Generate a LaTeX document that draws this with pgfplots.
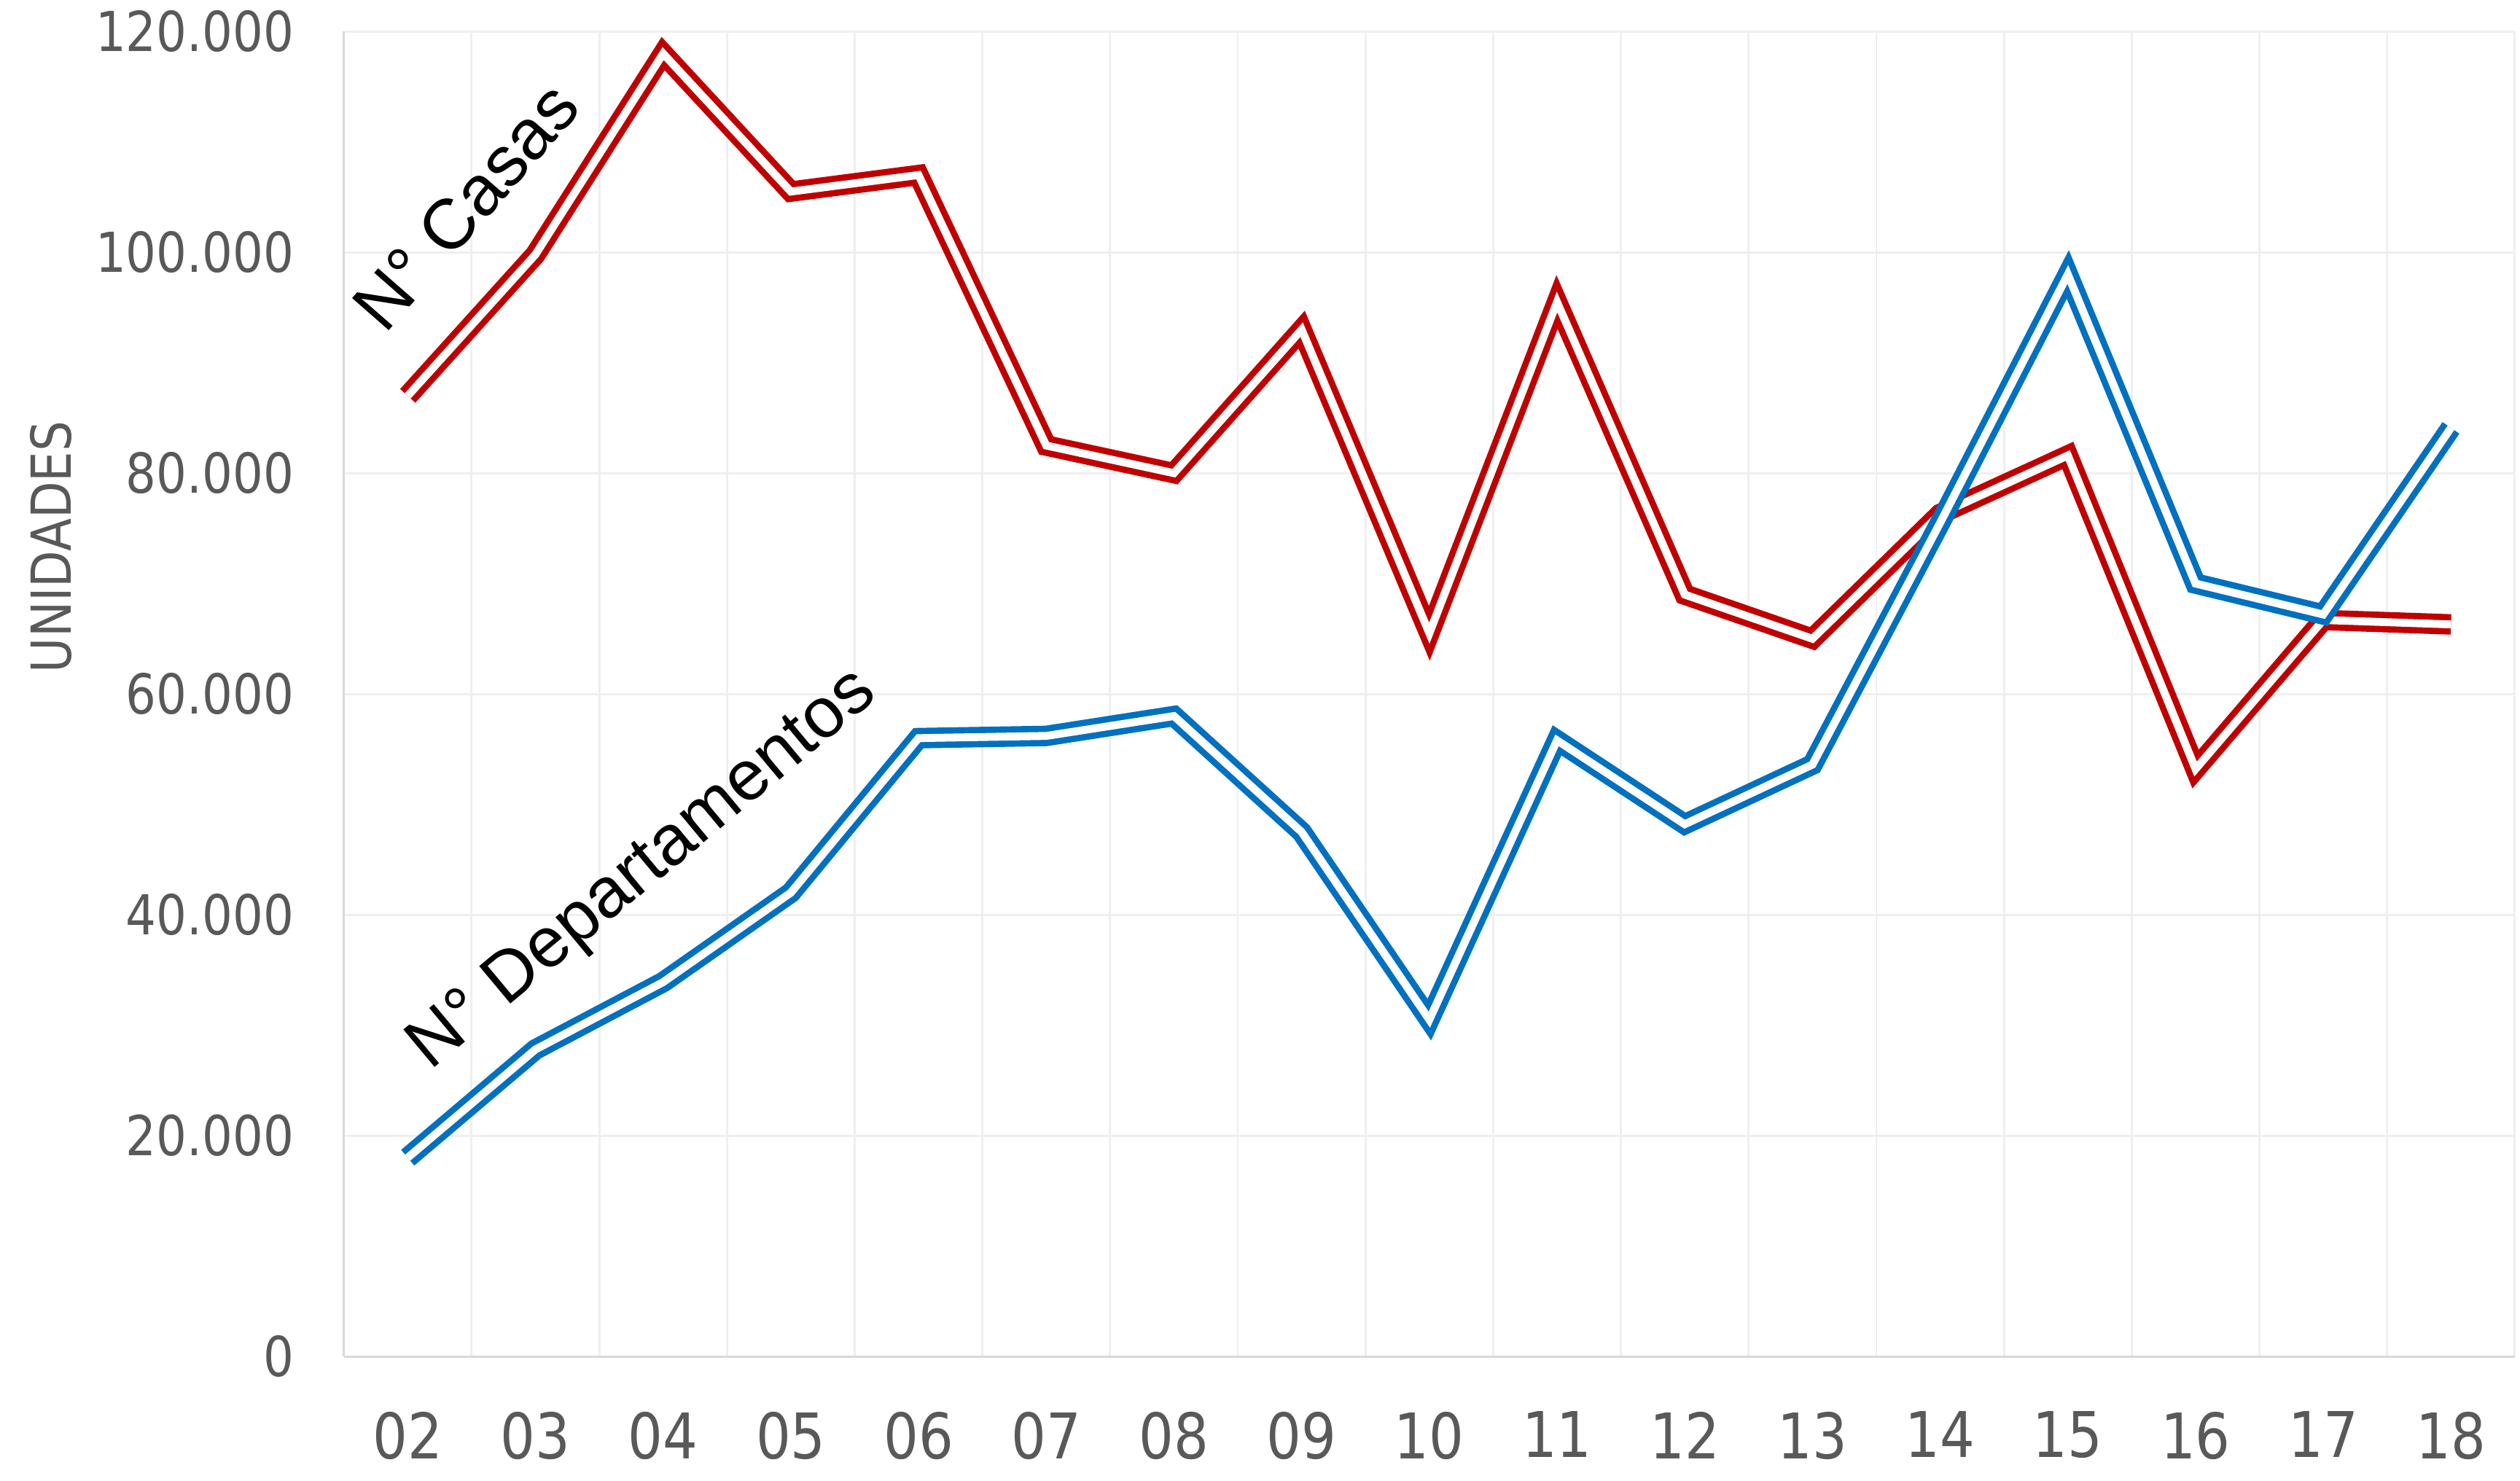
\documentclass[border=0pt]{standalone}
\usepackage{pgfplots}
\pgfplotsset{compat=1.18}
\usepackage{pgfplotstable}
\usepackage{fontspec}
\setmainfont{Liberation Sans}
\newfontfamily\tickfont[FakeStretch=0.87]{DejaVu Sans}
\definecolor{cRed}{HTML}{C00000}
\definecolor{cBlue}{HTML}{0070C0}
\definecolor{cGrid}{HTML}{EFEFEF}
\definecolor{cAxis}{HTML}{D9D9D9}
\definecolor{cTick}{HTML}{595959}

\pgfplotstableread{
x casas deptos
0 87000 18000
1 99800 27800
2 118000 33900
3 105500 42000
4 107000 56000
5 82500 56200
6 80000 58000
7 93000 47500
8 65500 30500
9 95500 55800
10 69000 48200
11 65000 53600
12 76300 75500
13 81600 98000
14 53200 70000
15 66700 67200
16 66300 84100
}\data

\begin{document}
\begin{tikzpicture}
\begin{axis}[
  scale only axis,
  width=413.5pt, height=252.4pt,
  xmin=-0.5, xmax=16.5, ymin=0, ymax=120000,
  axis lines=left,
  axis line style={draw=cAxis, line width=0.4pt, -},
  xtick={0,...,16},
  xticklabels={02,03,04,05,06,07,08,09,10,11,12,13,14,15,16,17,18},
  minor xtick={0.5,1.5,...,16.5},
  xminorgrids,
  minor grid style={draw=cGrid, line width=0.4pt},
  ytick={0,20000,40000,60000,80000,100000,120000},
  yticklabels={0,20.000,40.000,60.000,80.000,100.000,120.000},
  ymajorgrids,
  major grid style={draw=cGrid, line width=0.4pt},
  major tick length=0pt, minor tick length=0pt,
  tick style={draw=none},
  xticklabel style={font=\tickfont\fontsize{12}{14}\selectfont, text=cTick, yshift=-7pt},
  yticklabel style={font=\tickfont\fontsize{10.5}{12}\selectfont, text=cTick, xshift=-6pt},
  ylabel={UNIDADES},
  ylabel style={font=\tickfont\fontsize{10.5}{12}\selectfont, text=cTick, at={(axis description cs:-0.135,0.611)}, anchor=center},
  no markers,
  clip=false,
]
\addplot[draw=cRed, double=white, double distance=1.5pt, line width=1.2pt, line join=miter] table[x=x, y=casas] {\data};
\addplot[draw=cBlue, double=white, double distance=1.5pt, line width=1.2pt, line join=miter] table[x=x, y=deptos] {\data};
\node[rotate=48.8, font=\fontsize{13.5}{16}\selectfont] at (axis cs:0.453,104200) {N° Casas};
\node[rotate=39.8, font=\fontsize{13.5}{16}\selectfont] at (axis cs:1.846,44000) {N° Departamentos};
\coordinate (sw) at (rel axis cs:0,0);
\coordinate (ne) at (rel axis cs:1,1);
\end{axis}
\pgfresetboundingbox
\path[use as bounding box] ([xshift=-65.5pt,yshift=-23.7pt]sw) rectangle ([xshift=1pt,yshift=6pt]ne);
\end{tikzpicture}
\end{document}
